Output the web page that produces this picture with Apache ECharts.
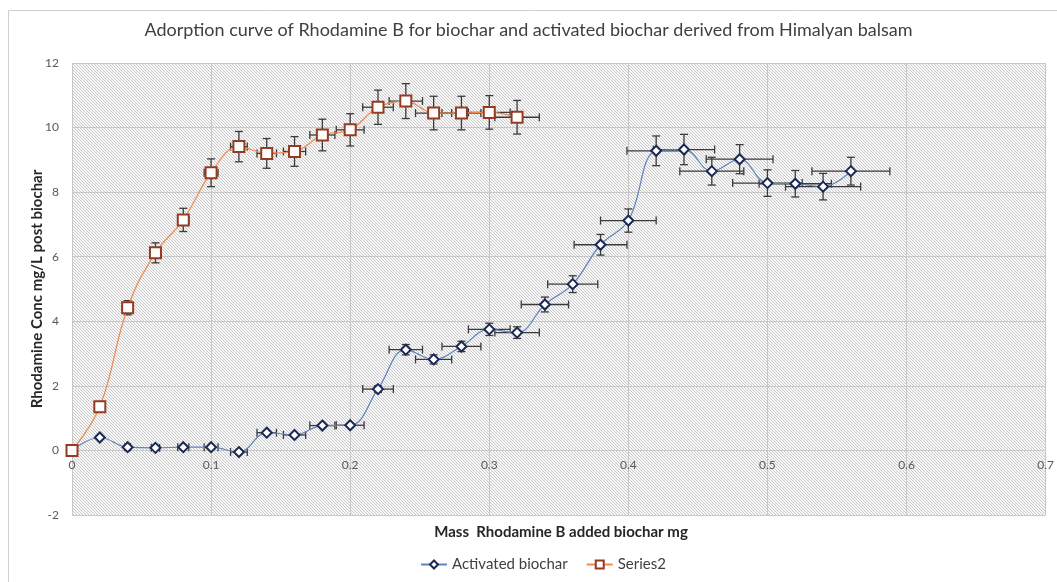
<!DOCTYPE html>
<html>
<head>
<meta charset="utf-8">
<script src="https://cdn.jsdelivr.net/npm/echarts@6/dist/echarts.min.js"></script>
<style>
  html, body { margin: 0; padding: 0; background: #fff; }
  #main { width: 1057px; height: 582px; }
</style>
</head>
<body>
<div id="main"></div>
<script>
// activated biochar
const actX = [0, 0.02, 0.04, 0.06, 0.08, 0.1, 0.12, 0.14, 0.16, 0.18, 0.2, 0.22, 0.24, 0.26, 0.28,
  0.3, 0.32, 0.34, 0.36, 0.38, 0.4, 0.42, 0.44, 0.46, 0.48, 0.5, 0.52, 0.54, 0.56]
const actY = [0, 0.4, 0.1, 0.08, 0.1, 0.1, -0.05, 0.55, 0.48, 0.77, 0.78, 1.9, 3.12, 2.82, 3.22,
  3.75, 3.65, 4.52, 5.15, 6.37, 7.12, 9.28, 9.32, 8.65, 9.02, 8.28, 8.26, 8.17, 8.65]
const actXErr = [0, 0.001, 0.002, 0.003, 0.004, 0.005, 0.006, 0.007, 0.008, 0.009, 0.01, 0.011, 0.012, 0.013, 0.014,
  0.015, 0.016, 0.017, 0.018, 0.019, 0.02, 0.021, 0.022, 0.023, 0.024, 0.025, 0.026, 0.027, 0.028]
const actYErr = [0, 0.02, 0.01, 0.01, 0.01, 0.01, 0.01, 0.03, 0.03, 0.04, 0.04, 0.1, 0.16, 0.14, 0.16,
  0.19, 0.18, 0.23, 0.26, 0.32, 0.36, 0.46, 0.47, 0.43, 0.45, 0.41, 0.41, 0.41, 0.43]

// Series2
const s2X = [0, 0.02, 0.04, 0.06, 0.08, 0.1, 0.12, 0.14, 0.16, 0.18, 0.2, 0.22, 0.24, 0.26, 0.28, 0.3, 0.32]
const s2Y = [0, 1.35, 4.42, 6.12, 7.14, 8.6, 9.41, 9.2, 9.26, 9.77, 9.93, 10.63, 10.82, 10.45, 10.45, 10.47, 10.32]
const s2XErr = [0, 0.001, 0.002, 0.003, 0.004, 0.005, 0.006, 0.007, 0.008, 0.009, 0.01, 0.011, 0.012, 0.013, 0.014, 0.015, 0.016]
const s2YErr = [0, 0.07, 0.22, 0.31, 0.36, 0.43, 0.47, 0.46, 0.46, 0.49, 0.5, 0.53, 0.54, 0.52, 0.52, 0.52, 0.52]

const yTicks = [-2, 0, 2, 4, 6, 8, 10, 12]

const fontName = 'Lato'

// hatched background for the plot area
function hatch() {
  const c = document.createElement('canvas')
  c.width = 3
  c.height = 3
  const ctx = c.getContext('2d')
  ctx.fillStyle = '#f8f8f8'
  ctx.fillRect(0, 0, 3, 3)
  ctx.fillStyle = '#c9c9c9'
  for (let i = 0; i < 3; i++) ctx.fillRect(i, i, 1, 1)
  return c
}

function pairs(xs, ys) {
  return xs.map((x, i) => [x, ys[i]])
}

function errRows(xs, ys, ex, ey) {
  return xs.map((x, i) => [x, ys[i], ex[i], ey[i]])
}

function errorBars(params, api) {
  const x = api.value(0)
  const y = api.value(1)
  const ex = api.value(2)
  const ey = api.value(3)
  const c = api.coord([x, y])
  const l = api.coord([x - ex, y])
  const r = api.coord([x + ex, y])
  const t = api.coord([x, y + ey])
  const b = api.coord([x, y - ey])
  const cap = 4
  const st = { stroke: '#3a3a3a', lineWidth: 1.3 }
  const kids = []
  if (r[0] - l[0] > 1) {
    kids.push({ type: 'line', shape: { x1: l[0], y1: c[1], x2: r[0], y2: c[1] }, style: st })
    kids.push({ type: 'line', shape: { x1: l[0], y1: c[1] - cap, x2: l[0], y2: c[1] + cap }, style: st })
    kids.push({ type: 'line', shape: { x1: r[0], y1: c[1] - cap, x2: r[0], y2: c[1] + cap }, style: st })
  }
  if (b[1] - t[1] > 1) {
    kids.push({ type: 'line', shape: { x1: c[0], y1: t[1], x2: c[0], y2: b[1] }, style: st })
    kids.push({ type: 'line', shape: { x1: c[0] - cap, y1: t[1], x2: c[0] + cap, y2: t[1] }, style: st })
    kids.push({ type: 'line', shape: { x1: c[0] - cap, y1: b[1], x2: c[0] + cap, y2: b[1] }, style: st })
  }
  return { type: 'group', children: kids }
}

const chart = echarts.init(document.getElementById('main'))
const option = {
  animation: false,
  textStyle: { fontFamily: fontName },
  title: [{
    text: 'Adorption curve of Rhodamine B for biochar and activated biochar derived from Himalyan balsam',
    left: 'center',
    top: 16,
    textStyle: { fontFamily: fontName, fontSize: 18, fontWeight: 'normal', color: '#404040' }
  }, {
    text: 'Mass  Rhodamine B added biochar mg',
    left: 556,
    textAlign: 'center',
    top: 520,
    textStyle: { fontFamily: fontName, fontSize: 15, fontWeight: 'bold', color: '#262626' }
  }],
  graphic: [{
    type: 'rect',
    shape: { x: 8.5, y: 10.5, width: 1060, height: 580 },
    style: { fill: 'none', stroke: '#d0d0d0', lineWidth: 1 },
    silent: true
  }],
  legend: {
    bottom: 5,
    left: 415,
    itemWidth: 26,
    itemHeight: 10,
    itemGap: 18,
    textStyle: { fontFamily: fontName, fontSize: 15, color: '#404040' },
    data: ['Activated biochar', 'Series2']
  },
  grid: {
    left: 72,
    right: 8,
    top: 63,
    bottom: 67,
    show: true,
    borderWidth: 0,
    backgroundColor: { image: hatch(), repeat: 'repeat' }
  },
  xAxis: {
    type: 'value',
    min: 0,
    max: 0.7,
    interval: 0.1,
    position: 'bottom',
    offset: -64.5,
    axisLine: { show: true, onZero: false, lineStyle: { color: '#c8c8c8', width: 1 } },
    axisTick: { show: false },
    axisLabel: { color: '#595959', fontSize: 12, margin: 9 },
    splitLine: { show: true, lineStyle: { color: '#c8c8c8', width: 1 } }
  },
  yAxis: {
    type: 'value',
    min: yTicks[0],
    max: yTicks[yTicks.length - 1],
    interval: 2,
    name: 'Rhodamine Conc mg/L post biochar',
    nameLocation: 'middle',
    nameGap: 27,
    nameMoveOverlap: false,
    nameTextStyle: { fontFamily: fontName, fontSize: 15, fontWeight: 'bold', color: '#262626' },
    axisLine: { show: false, onZero: false },
    axisTick: { show: false },
    axisLabel: { color: '#595959', fontSize: 12, margin: 13 },
    splitLine: { show: true, lineStyle: { color: '#c8c8c8', width: 1 } }
  },
  series: [{
    type: 'custom',
    name: 'errAct',
    renderItem: errorBars,
    data: errRows(actX, actY, actXErr, actYErr),
    z: 3,
    silent: true
  }, {
    type: 'custom',
    name: 'errS2',
    renderItem: errorBars,
    data: errRows(s2X, s2Y, s2XErr, s2YErr),
    z: 3,
    silent: true
  }, {
    type: 'line',
    name: 'Activated biochar',
    data: pairs(actX, actY),
    smooth: 0.4,
    symbol: 'diamond',
    symbolSize: 10,
    z: 5,
    lineStyle: { color: '#5b84c0', width: 1.2 },
    itemStyle: { color: '#ffffff', borderColor: '#1c2754', borderWidth: 2 }
  }, {
    type: 'line',
    name: 'Series2',
    data: pairs(s2X, s2Y),
    smooth: 0.4,
    symbol: 'rect',
    symbolSize: 11,
    z: 5,
    lineStyle: { color: '#ed8b4e', width: 1.2 },
    itemStyle: { color: '#ffffff', borderColor: '#963a22', borderWidth: 2 }
  }]
}
chart.setOption(option)
</script>
</body>
</html>
